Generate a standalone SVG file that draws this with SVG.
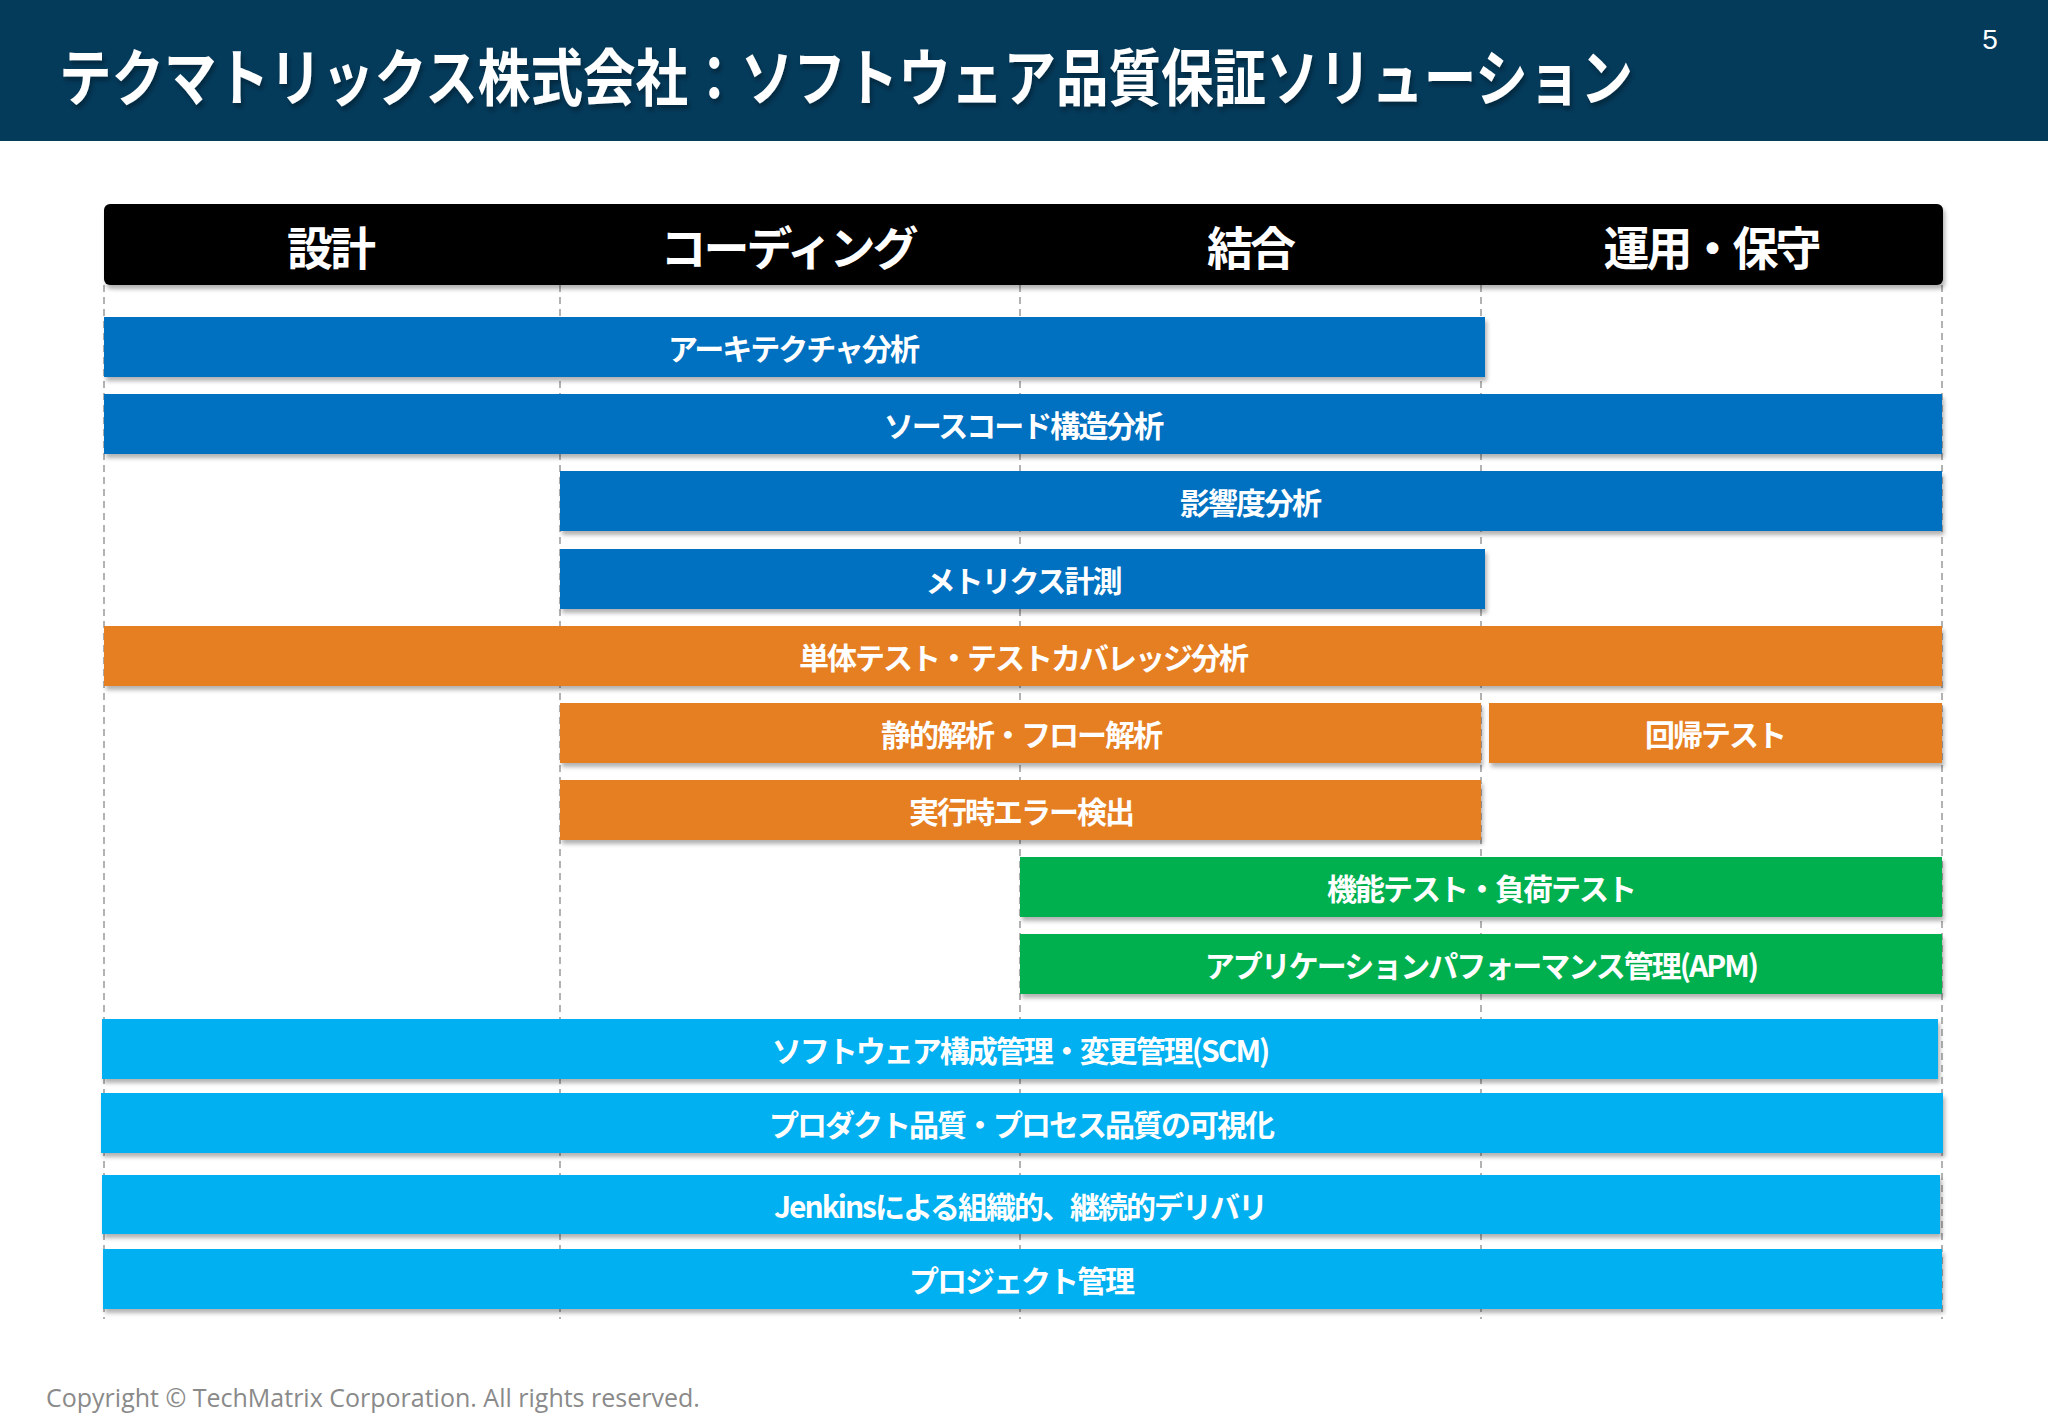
<svg xmlns="http://www.w3.org/2000/svg" width="2048" height="1418" viewBox="0 0 2048 1418">
<style>
.t{font-family:"Noto Sans CJK JP","Noto Sans",sans-serif;font-weight:bold;fill:#fff;text-anchor:middle;dominant-baseline:central}
.b{font-size:30px;letter-spacing:-2px}
.h{font-size:46px;letter-spacing:-3px}
.dv{stroke:#999;stroke-width:1.5;stroke-dasharray:7 5}
</style>
<defs>
<filter id="sh" x="-5%" y="-20%" width="110%" height="150%"><feDropShadow dx="2" dy="4" stdDeviation="2" flood-color="#000" flood-opacity="0.3"/></filter>
</defs>
<rect width="2048" height="1418" fill="#fff"/>
<rect x="0" y="0" width="2048" height="141" fill="#043A5A"/>
<text x="59" y="74" class="t" textLength="1574" lengthAdjust="spacingAndGlyphs" style="text-anchor:start;font-size:62px;filter:url(#sh)">テクマトリックス株式会社：ソフトウェア品質保証ソリューション</text>
<text x="1990" y="39" style="font-family:'Liberation Sans',sans-serif;font-size:28px;fill:#fff;text-anchor:middle;dominant-baseline:central">5</text>
<g id="dividers">
<line x1="104" y1="285" x2="104" y2="1319" class="dv"/>
<line x1="560" y1="285" x2="560" y2="1319" class="dv"/>
<line x1="1020" y1="285" x2="1020" y2="1319" class="dv"/>
<line x1="1481" y1="285" x2="1481" y2="1319" class="dv"/>
<line x1="1942" y1="285" x2="1942" y2="1319" class="dv"/>
</g>
<g id="header">
<rect x="104" y="204" width="1839" height="81" rx="6" fill="#000" filter="url(#sh)"/>
<text x="330" y="245" class="t h">設計</text>
<text x="788" y="245" class="t h">コーディング</text>
<text x="1250" y="245" class="t h">結合</text>
<text x="1711" y="245" class="t h">運用・保守</text>
</g>
<g id="bar1"><rect x="104" y="317" width="1381" height="60" fill="#0070C0" filter="url(#sh)"/><text x="793" y="347" class="t b">アーキテクチャ分析</text></g>
<g id="bar2"><rect x="104" y="394" width="1838" height="60" fill="#0070C0" filter="url(#sh)"/><text x="1023" y="424" class="t b">ソースコード構造分析</text></g>
<g id="bar3"><rect x="560" y="471" width="1382" height="60" fill="#0070C0" filter="url(#sh)"/><text x="1250" y="501" class="t b">影響度分析</text></g>
<g id="bar4"><rect x="560" y="549" width="925" height="60" fill="#0070C0" filter="url(#sh)"/><text x="1023" y="579" class="t b">メトリクス計測</text></g>
<g id="bar5"><rect x="104" y="626" width="1838" height="60" fill="#E67E22" filter="url(#sh)"/><text x="1023" y="656" class="t b">単体テスト・テストカバレッジ分析</text></g>
<g id="bar6"><rect x="560" y="703" width="921" height="60" fill="#E67E22" filter="url(#sh)"/><text x="1021" y="733" class="t b">静的解析・フロー解析</text></g>
<g id="bar6b"><rect x="1489" y="703" width="453" height="60" fill="#E67E22" filter="url(#sh)"/><text x="1715" y="733" class="t b">回帰テスト</text></g>
<g id="bar7"><rect x="560" y="780" width="921" height="60" fill="#E67E22" filter="url(#sh)"/><text x="1021" y="810" class="t b">実行時エラー検出</text></g>
<g id="bar8"><rect x="1020" y="857" width="922" height="60" fill="#00B050" filter="url(#sh)"/><text x="1481" y="887" class="t b">機能テスト・負荷テスト</text></g>
<g id="bar9"><rect x="1020" y="934" width="922" height="60" fill="#00B050" filter="url(#sh)"/><text x="1481" y="964" class="t b">アプリケーションパフォーマンス管理(APM)</text></g>
<g id="bar10"><rect x="102" y="1019" width="1836" height="60" fill="#00B0F0" filter="url(#sh)"/><text x="1020" y="1049" class="t b">ソフトウェア構成管理・変更管理(SCM)</text></g>
<g id="bar11"><rect x="101" y="1093" width="1842" height="60" fill="#00B0F0" filter="url(#sh)"/><text x="1021" y="1123" class="t b">プロダクト品質・プロセス品質の可視化</text></g>
<g id="bar12"><rect x="102" y="1175" width="1838" height="59" fill="#00B0F0" filter="url(#sh)"/><text x="1020" y="1205" class="t b">Jenkinsによる組織的、継続的デリバリ</text></g>
<g id="bar13"><rect x="103" y="1249" width="1839" height="60" fill="#00B0F0" filter="url(#sh)"/><text x="1021" y="1279" class="t b">プロジェクト管理</text></g>
<text x="46" y="1397" style="font-family:'Open Sans','Noto Sans',sans-serif;font-size:25px;fill:#8a8a8a;dominant-baseline:central">Copyright © TechMatrix Corporation. All rights reserved.</text>
</svg>
